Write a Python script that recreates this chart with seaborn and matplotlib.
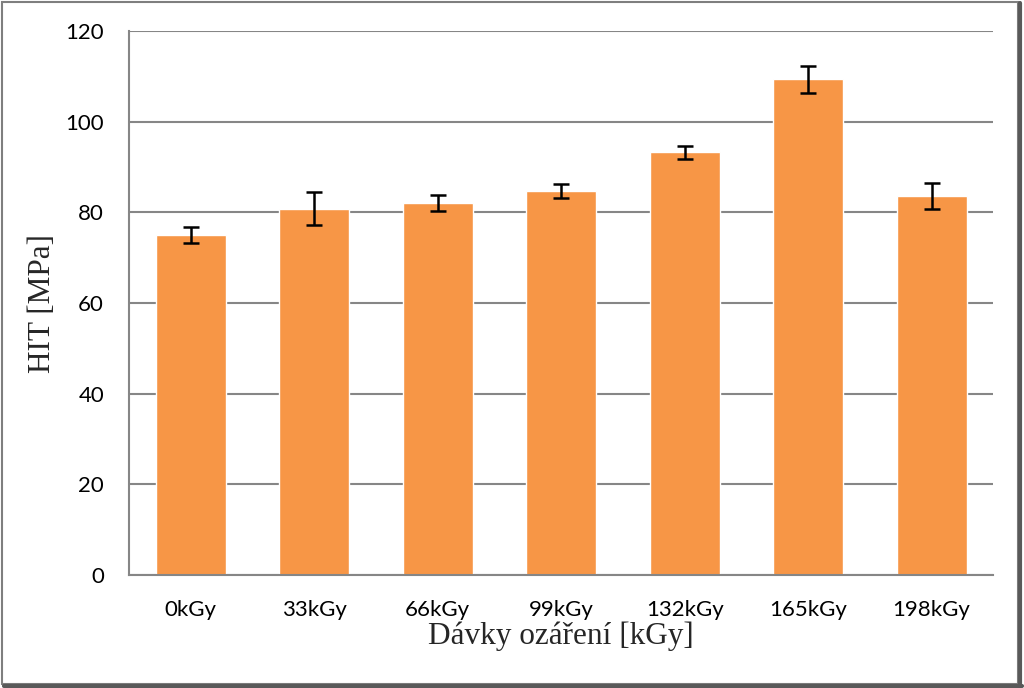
import matplotlib
matplotlib.use("Agg")
import matplotlib.pyplot as plt
import seaborn as sns
import pandas as pd
from matplotlib.patches import Rectangle
from matplotlib.lines import Line2D

categories = ["0kGy", "33kGy", "66kGy", "99kGy", "132kGy", "165kGy", "198kGy"]
values = [75.0, 80.8, 82.1, 84.7, 93.2, 109.3, 83.6]
errors = [1.7, 3.6, 1.8, 1.5, 1.4, 3.0, 2.8]
yticks = [0, 20, 40, 60, 80, 100, 120]

df = pd.DataFrame({"cat": categories, "val": values})

sns.set_theme(style="white")
fig = plt.figure(figsize=(10.24, 6.88), dpi=100)
ax = fig.add_axes([0.126, 0.164, 0.844, 0.791])

sns.barplot(data=df, x="cat", y="val", color="#F79646", saturation=1,
            width=0.567, errorbar=None, ax=ax, zorder=2)
ax.errorbar(range(len(categories)), values, yerr=errors, fmt="none",
            ecolor="black", elinewidth=1.8, capsize=5.5, capthick=1.8, zorder=3)

ax.set_ylim(0, 120)
ax.set_yticks(yticks)
ax.set_xlim(-0.5, len(categories) - 0.5)
ax.yaxis.grid(True, color="#868686", linewidth=1.5, zorder=0)
ax.set_axisbelow(True)
for s in ["top", "right"]:
    ax.spines[s].set_visible(False)
ax.spines["left"].set_color("#868686")
ax.spines["left"].set_linewidth(1.5)
ax.spines["bottom"].set_color("#868686")
ax.spines["bottom"].set_linewidth(1.5)
ax.tick_params(axis="both", length=0, labelsize=16, colors="black")
ax.tick_params(axis="x", pad=18)
ax.tick_params(axis="y", pad=18)
for lab in ax.get_xticklabels() + ax.get_yticklabels():
    lab.set_family(["Lato", "DejaVu Sans"])

ax.set_xlabel("Dávky ozáření [kGy]", fontsize=22.5, family=["Liberation Serif", "DejaVu Serif"], labelpad=1)
ax.set_ylabel("HIT [MPa]", fontsize=22.5, family=["Liberation Serif", "DejaVu Serif"], labelpad=6)

# outer frame with shadow
fig.add_artist(Rectangle((0.002, 0.006), 0.992, 0.991, transform=fig.transFigure,
                         fill=False, edgecolor="#7f7f7f", linewidth=1.5))
fig.add_artist(Line2D([0.996, 0.996], [0.0, 0.995], transform=fig.transFigure,
                      color="#595959", linewidth=3))
fig.add_artist(Line2D([0.004, 0.998], [0.003, 0.003], transform=fig.transFigure,
                      color="#595959", linewidth=3))

fig.savefig("out.png", dpi=100)
